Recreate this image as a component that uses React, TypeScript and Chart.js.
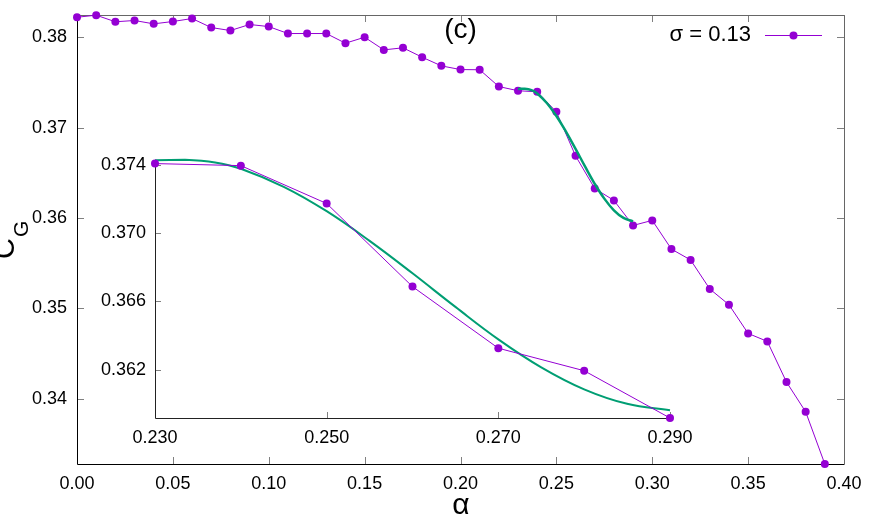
import { useEffect, useRef } from 'react';
import { Chart, registerables } from 'chart.js';
Chart.register(...registerables);

// ---------- data ----------
const ALPHA = [
  0.0, 0.01, 0.02, 0.03, 0.04, 0.05, 0.06, 0.07, 0.08, 0.09,
  0.1, 0.11, 0.12, 0.13, 0.14, 0.15, 0.16, 0.17, 0.18, 0.19,
  0.2, 0.21, 0.22, 0.23, 0.24, 0.25, 0.26, 0.27, 0.28, 0.29,
  0.3, 0.31, 0.32, 0.33, 0.34, 0.35, 0.36, 0.37, 0.38, 0.39,
];
const CG = [
  0.38221, 0.38244, 0.38171, 0.38185, 0.38148, 0.38174, 0.38207, 0.38107, 0.38074, 0.38141,
  0.38118, 0.38041, 0.38041, 0.38041, 0.37934, 0.38, 0.3786, 0.37883, 0.37779, 0.37683,
  0.37642, 0.3764, 0.37454, 0.37408, 0.37396, 0.37174, 0.36687, 0.36326, 0.36194, 0.35917,
  0.35973, 0.35655, 0.35535, 0.35214, 0.3504, 0.34722, 0.34634, 0.34184, 0.33855, 0.33277,
];
// fitted curve
const FIT_ALPHA = [0.23, 0.2335, 0.237, 0.24, 0.245, 0.25, 0.255, 0.26, 0.265, 0.27, 0.275, 0.28, 0.285, 0.29];
const FIT_CG = [0.37427, 0.3743, 0.37415, 0.37378, 0.37272, 0.37129, 0.36955, 0.36765, 0.36568, 0.36378, 0.36214, 0.36085, 0.36, 0.35962];

const INSET_RANGE = [0.23, 0.29];
const MAIN_X_TICKS = [0, 0.05, 0.1, 0.15, 0.2, 0.25, 0.3, 0.35, 0.4];
const MAIN_Y_TICKS = [0.34, 0.35, 0.36, 0.37, 0.38];
const INSET_X_TICKS = [0.23, 0.25, 0.27, 0.29];
const INSET_Y_TICKS = [0.362, 0.366, 0.37, 0.374];
const LEGEND_LABEL = 'σ = 0.13';
const PANEL_LABEL = '(c)';
const X_TITLE = 'α';
const Y_TITLE_MAIN = 'C';
const Y_TITLE_SUB = 'G';

const PURPLE = '#9400d3';
const GREEN = '#009e73';
const FONT = '"Liberation Sans", Arial, sans-serif';
const W = 872;
const H = 523;
const MAIN_AREA = { left: 77, top: 15, right: 844, bottom: 464 };
const INSET_AREA = { left: 155, top: 160, right: 670, bottom: 418 };

const toXY = (xs: number[], ys: number[]) => xs.map((x, i) => ({ x, y: ys[i] }));

// force the plot area to an exact rectangle
const fixArea = (area: { left: number; top: number; right: number; bottom: number }) => ({
  id: 'fixArea',
  afterLayout(chart: any) {
    const ca = chart.chartArea;
    ca.left = area.left; ca.top = area.top; ca.right = area.right; ca.bottom = area.bottom;
    ca.width = area.right - area.left; ca.height = area.bottom - area.top;
    const sx = chart.scales.x;
    const sy = chart.scales.y;
    sx.left = area.left; sx.right = area.right; sx.width = area.right - area.left;
    sx.top = area.bottom; sx.bottom = H; sx.height = H - area.bottom;
    sy.top = area.top; sy.bottom = area.bottom; sy.height = area.bottom - area.top;
    sy.left = 0; sy.right = area.left; sy.width = area.left;
    sx.configure();
    sy.configure();
  },
});

export default function App() {
  const mainRef = useRef<HTMLCanvasElement>(null);
  const insetRef = useRef<HTMLCanvasElement>(null);

  useEffect(() => {
    const mainData = toXY(ALPHA, CG);
    const insetData = mainData.filter((p) => p.x >= INSET_RANGE[0] - 1e-9 && p.x <= INSET_RANGE[1] + 1e-9);
    const fitData = toXY(FIT_ALPHA, FIT_CG);

    const mainFrame = {
      id: 'mainFrame',
      beforeDatasetsDraw(chart: any) {
        const { ctx, chartArea: a, scales } = chart;
        ctx.save();
        ctx.lineWidth = 1;
        ctx.strokeStyle = '#808080';
        ctx.beginPath();
        for (const v of MAIN_X_TICKS) {
          const px = Math.round(scales.x.getPixelForValue(v)) + 0.5;
          ctx.moveTo(px, a.bottom); ctx.lineTo(px, a.bottom - 7);
          ctx.moveTo(px, a.top); ctx.lineTo(px, a.top + 7);
        }
        for (const v of MAIN_Y_TICKS) {
          const py = Math.round(scales.y.getPixelForValue(v)) + 0.5;
          ctx.moveTo(a.left, py); ctx.lineTo(a.left + 7, py);
          ctx.moveTo(a.right, py); ctx.lineTo(a.right - 7, py);
        }
        ctx.stroke();
        ctx.strokeStyle = '#666';
        ctx.beginPath();
        ctx.moveTo(a.left, a.top + 0.5); ctx.lineTo(a.right + 0.5, a.top + 0.5);
        ctx.lineTo(a.right + 0.5, a.bottom);
        ctx.stroke();
        ctx.strokeStyle = '#000';
        ctx.beginPath();
        ctx.moveTo(a.left + 0.5, a.top); ctx.lineTo(a.left + 0.5, a.bottom + 0.5);
        ctx.lineTo(a.right + 0.5, a.bottom + 0.5);
        ctx.stroke();
        ctx.restore();
      },
      afterDraw(chart: any) {
        const { ctx } = chart;
        ctx.save();
        ctx.fillStyle = '#000';
        // panel label
        ctx.font = `28px ${FONT}`;
        ctx.textAlign = 'center';
        ctx.textBaseline = 'middle';
        ctx.fillText(PANEL_LABEL, 460.5, 30);
        // legend
        ctx.font = `22px ${FONT}`;
        ctx.textAlign = 'right';
        ctx.fillText(LEGEND_LABEL, 751, 35);
        ctx.strokeStyle = PURPLE;
        ctx.lineWidth = 1;
        ctx.beginPath();
        ctx.moveTo(765, 35.5); ctx.lineTo(822, 35.5);
        ctx.stroke();
        ctx.fillStyle = PURPLE;
        ctx.beginPath();
        ctx.arc(793.5, 35.5, 4, 0, Math.PI * 2);
        ctx.fill();
        // x title
        ctx.fillStyle = '#000';
        ctx.font = `30px ${FONT}`;
        ctx.textAlign = 'center';
        ctx.textBaseline = 'alphabetic';
        ctx.fillText(X_TITLE, 461, 514);
        // y title, rotated
        ctx.translate(14, 259);
        ctx.rotate(-Math.PI / 2);
        ctx.textAlign = 'left';
        ctx.font = `29px ${FONT}`;
        ctx.fillText(Y_TITLE_MAIN, 0, 0);
        const wC = ctx.measureText(Y_TITLE_MAIN).width;
        ctx.font = `21px ${FONT}`;
        ctx.fillText(Y_TITLE_SUB, wC + 1, 14);
        ctx.restore();
      },
    };

    const insetFrame = {
      id: 'insetFrame',
      beforeDatasetsDraw(chart: any) {
        const { ctx, chartArea: a, scales } = chart;
        ctx.save();
        ctx.lineWidth = 1;
        ctx.strokeStyle = '#808080';
        ctx.beginPath();
        for (const v of INSET_X_TICKS) {
          const px = Math.round(scales.x.getPixelForValue(v)) + 0.5;
          ctx.moveTo(px, a.bottom); ctx.lineTo(px, a.bottom - 6);
        }
        for (const v of INSET_Y_TICKS) {
          const py = Math.round(scales.y.getPixelForValue(v)) + 0.5;
          ctx.moveTo(a.left, py); ctx.lineTo(a.left + 6, py);
        }
        ctx.stroke();
        ctx.strokeStyle = '#222';
        ctx.beginPath();
        ctx.moveTo(a.left + 0.5, a.top); ctx.lineTo(a.left + 0.5, a.bottom + 0.5);
        ctx.lineTo(a.right + 0.5, a.bottom + 0.5);
        ctx.stroke();
        ctx.restore();
      },
    };

    const tickFont = { family: FONT, size: 18 };
    const noGrid = { display: false, drawTicks: false };

    const main = new Chart(mainRef.current!, {
      type: 'scatter',
      data: {
        datasets: [
          {
            data: fitData, showLine: true, borderColor: GREEN, borderWidth: 2.5,
            pointRadius: 0, tension: 0.4, order: 0, clip: false,
          } as any,
          {
            data: mainData, showLine: true, borderColor: PURPLE, borderWidth: 1,
            backgroundColor: PURPLE, pointBackgroundColor: PURPLE, pointBorderWidth: 0,
            pointRadius: 4, order: 1, clip: false,
          } as any,
        ],
      },
      options: {
        animation: false, responsive: false, devicePixelRatio: 1,
        layout: { padding: { left: 0, right: W - MAIN_AREA.right, top: MAIN_AREA.top, bottom: 0 } },
        plugins: { legend: { display: false }, tooltip: { enabled: false } },
        scales: {
          x: {
            type: 'linear', min: 0, max: 0.4,
            afterBuildTicks: (s: any) => { s.ticks = MAIN_X_TICKS.map((v) => ({ value: v })); },
            afterFit: (s: any) => { s.height = H - MAIN_AREA.bottom; },
            grid: noGrid, border: { display: false },
            ticks: { callback: (v: any) => Number(v).toFixed(2), font: tickFont, color: '#000', padding: 9, maxRotation: 0, autoSkip: false },
          },
          y: {
            type: 'linear', min: 0.33277, max: 0.38246,
            afterBuildTicks: (s: any) => { s.ticks = MAIN_Y_TICKS.map((v) => ({ value: v })); },
            afterFit: (s: any) => { s.width = MAIN_AREA.left; },
            grid: noGrid, border: { display: false },
            ticks: { callback: (v: any) => Number(v).toFixed(2), font: tickFont, color: '#000', padding: 10, autoSkip: false },
          },
        },
      } as any,
      plugins: [fixArea(MAIN_AREA), mainFrame],
    });

    const inset = new Chart(insetRef.current!, {
      type: 'scatter',
      data: {
        datasets: [
          {
            data: insetData, showLine: true, borderColor: PURPLE, borderWidth: 1,
            backgroundColor: PURPLE, pointBackgroundColor: PURPLE, pointBorderWidth: 0,
            pointRadius: 4, order: 0, clip: false,
          } as any,
          {
            data: fitData, showLine: true, borderColor: GREEN, borderWidth: 2,
            pointRadius: 0, tension: 0.4, order: 1, clip: false,
          } as any,
        ],
      },
      options: {
        animation: false, responsive: false, devicePixelRatio: 1,
        layout: { padding: { left: 0, right: W - INSET_AREA.right, top: INSET_AREA.top, bottom: 0 } },
        plugins: { legend: { display: false }, tooltip: { enabled: false } },
        scales: {
          x: {
            type: 'linear', min: INSET_RANGE[0], max: INSET_RANGE[1],
            afterBuildTicks: (s: any) => { s.ticks = INSET_X_TICKS.map((v) => ({ value: v })); },
            afterFit: (s: any) => { s.height = H - INSET_AREA.bottom; },
            grid: noGrid, border: { display: false },
            ticks: { callback: (v: any) => Number(v).toFixed(3), font: tickFont, color: '#000', padding: 9, maxRotation: 0, autoSkip: false },
          },
          y: {
            type: 'linear', min: 0.35917, max: 0.37429,
            afterBuildTicks: (s: any) => { s.ticks = INSET_Y_TICKS.map((v) => ({ value: v })); },
            afterFit: (s: any) => { s.width = INSET_AREA.left; },
            grid: noGrid, border: { display: false },
            ticks: { callback: (v: any) => Number(v).toFixed(3), font: tickFont, color: '#000', padding: 9, autoSkip: false },
          },
        },
      } as any,
      plugins: [fixArea(INSET_AREA), insetFrame],
    });

    return () => { main.destroy(); inset.destroy(); };
  }, []);

  const st: React.CSSProperties = { position: 'absolute', left: 0, top: 0, width: W, height: H };
  return (
    <div style={{ position: 'fixed', left: 0, top: 0, width: W, height: H, background: '#fff' }}>
      <canvas ref={mainRef} width={W} height={H} style={st} />
      <canvas ref={insetRef} width={W} height={H} style={st} />
    </div>
  );
}
